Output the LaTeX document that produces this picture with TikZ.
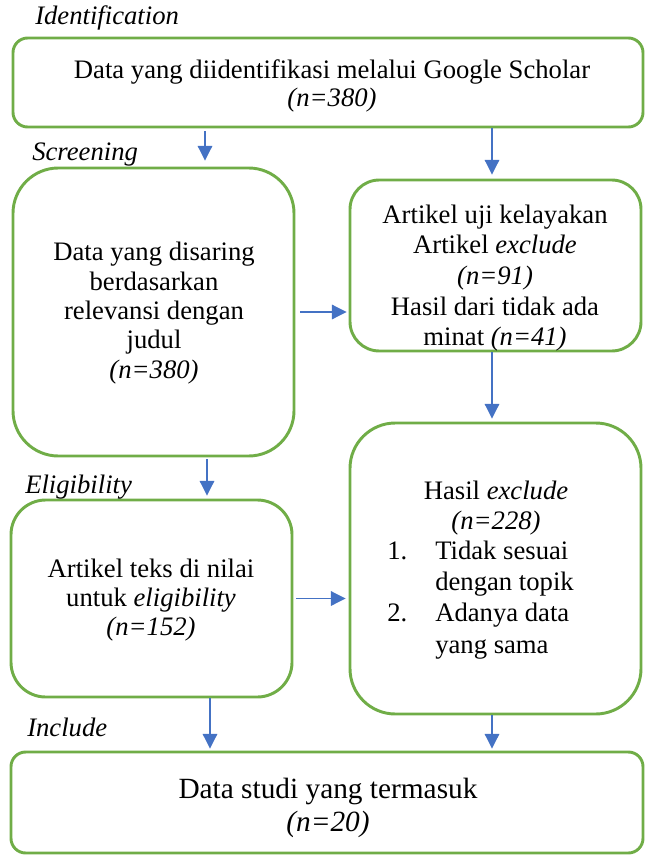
\documentclass[tikz,border=0pt]{standalone}
\usepackage{fontspec}
\setmainfont{Liberation Serif}
\usetikzlibrary{arrows.meta}
\definecolor{boxgreen}{HTML}{70AD47}
\definecolor{arrblue}{HTML}{4472C4}
\tikzset{
  box/.style={draw=boxgreen, line width=2.2pt, inner sep=0pt, rectangle},
  arr/.style={draw=arrblue, line width=0.8pt, -{Triangle[length=11pt,width=11pt]}},
  txt/.style={align=center, inner sep=0pt, font=\fontsize{20}{22}\selectfont},
  stage/.style={anchor=west, inner sep=0pt, font=\fontsize{20}{22}\selectfont\itshape},
}
\begin{document}
\begin{tikzpicture}[x=0.75pt, y=-0.75pt]
\useasboundingbox (0,0) rectangle (646,856);
% boxes
\node[box, minimum width=472.5pt, minimum height=66.75pt, rounded corners=11pt] (top) at (328,82.5) {};
\node[box, minimum width=210.75pt, minimum height=216pt, rounded corners=34pt] (l1) at (153.5,312) {};
\node[box, minimum width=218.25pt, minimum height=128.25pt, rounded corners=22pt] (r1) at (495.5,265.5) {};
\node[box, minimum width=218.25pt, minimum height=218.25pt, rounded corners=34pt] (r2) at (495.5,568.5) {};
\node[box, minimum width=210.75pt, minimum height=147.75pt, rounded corners=26pt] (l2) at (151.5,598.5) {};
\node[box, minimum width=474pt, minimum height=75.75pt, rounded corners=11pt] (bot) at (327,802.5) {};
% stage labels
\node[stage] (s1) at (35,18) {Identification};
\node[stage] (s2) at (32,155) {Screening};
\node[stage] (s3) at (25,487) {Eligibility};
\node[stage] (s4) at (27,727) {Include};
% texts
\node[txt, font=\fontsize{20}{21}\selectfont] (t0) at (332,86) {Data yang diidentifikasi melalui Google Scholar\\\textit{(n=380)}};
\node[txt] (t1) at (154,313) {Data yang disaring\\berdasarkan\\relevansi dengan\\judul\\\textit{(n=380)}};
\node[txt, font=\fontsize{20}{23}\selectfont] (t2) at (495,278) {Artikel uji kelayakan\\Artikel \textit{exclude}\\\textit{(n=91)}\\Hasil dari tidak ada\\minat \textit{(n=41)}};
\node[txt, font=\fontsize{20}{22.5}\selectfont] (t3a) at (496,508) {Hasil \textit{exclude}\\\textit{(n=228)}};
\node[inner sep=0pt, anchor=west, font=\fontsize{20}{23.5}\selectfont] (t3b) at (387,600) {\begin{tabular}{@{}p{36pt}@{}l@{}}1. & Tidak sesuai\\ & dengan topik\\ 2. & Adanya data\\ & yang sama\end{tabular}};
\node[txt] (t4) at (151,600) {Artikel teks di nilai\\untuk \textit{eligibility}\\\textit{(n=152)}};
\node[txt, font=\fontsize{22}{25}\selectfont] (t5) at (328,808) {Data studi yang termasuk\\\textit{(n=20)}};
% arrow x positions
\coordinate (xa) at (205,0);
\coordinate (xb) at (492,0);
\coordinate (xc) at (207,0);
\coordinate (xd) at (210,0);
% arrows
\draw[arr, shorten <=2.25pt, shorten >=4.5pt] (top.south -| xa) -- (l1.north -| xa);
\draw[arr, shorten >=3pt] (top.south -| xb) -- (r1.north -| xb);
\draw[arr, shorten <=3.75pt, shorten >=1.5pt] (l1.east) -- (r1.west |- l1.east);
\draw[arr, shorten >=2.25pt] (r1.south -| xb) -- (r2.north -| xb);
\draw[arr, shorten <=1.5pt, shorten >=2.25pt] (l1.south -| xc) -- (l2.north -| xc);
\draw[arr, shorten <=2.25pt, shorten >=2.25pt] (l2.east) -- (r2.west |- l2.east);
\draw[arr, shorten >=1.5pt] (l2.south -| xd) -- (bot.north -| xd);
\draw[arr, shorten >=1.5pt] (r2.south -| xb) -- (bot.north -| xb);
\end{tikzpicture}
\end{document}
